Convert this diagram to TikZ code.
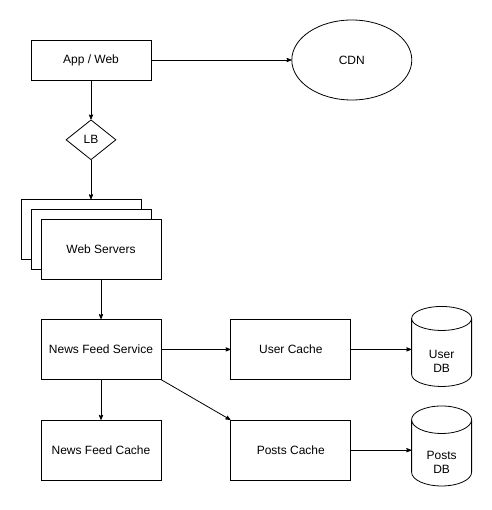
\documentclass[tikz,border=0pt]{standalone}
\usepackage{fontspec}
\setmainfont{Liberation Sans}
\usetikzlibrary{arrows,positioning,shapes,shadows}

\begin{document}
\begin{tikzpicture}[->,>=stealth',auto,node distance=40pt,x=1pt,y=-1pt,
                    line width=0.8pt,
                    box node/.style={rectangle,draw,minimum width=120pt,minimum height=60pt,font=\fontsize{12}{14}\selectfont},
                    db node/.style={cylinder,draw,shape border rotate=90,aspect=0.75,minimum width=60pt,minimum height=80pt,
                                    inner ysep=1pt,text height=34pt,align=center,font=\fontsize{12}{14}\selectfont}]

  \useasboundingbox (0,0) rectangle (491,510);
  \node[box node, minimum height=40pt] at (91,60) (app){App / Web};
  \node[draw,ellipse,minimum width=120pt,minimum height=80pt,font=\fontsize{12}{14}\selectfont] [right = 140pt of app] (cdn){CDN};
  \node[draw,diamond,minimum width=50pt,minimum height=40pt,inner sep=0pt,font=\fontsize{12}{14}\selectfont] [below = 39pt of app] (lb){LB};
  \node[box node, fill=white, double copy shadow={shadow xshift=-10pt,shadow yshift=10pt,fill=white,draw}] [below = 59pt of lb, xshift=10pt] (websrv){Web Servers};
  \coordinate [above = 20pt of websrv.north -| lb] (wsback);
  \node[box node] [below = 39pt of websrv] (nfs){News Feed Service};
  \node[box node] [right = 69pt of nfs] (ucache){User Cache};
  \node[db node] [right = 60pt of ucache, yshift=-6pt] (udb){User\\DB};
  \node[box node] [below = of nfs] (nfc){News Feed Cache};
  \node[box node] [below = of ucache] (pcache){Posts Cache};
  \node[db node] [right = 60pt of pcache, yshift=-6pt] (pdb){Posts\\DB};

\path (app) edge (cdn);
\path (app) edge (lb);
\path (lb) edge (wsback);
\path (websrv) edge (nfs);
\path (nfs) edge (ucache);
\path (nfs) edge (nfc);
\path (nfs.south east) edge (pcache.north west);
\path (ucache) edge (ucache -| udb.west);
\path (pcache) edge (pcache -| pdb.west);

\end{tikzpicture}
\end{document}
